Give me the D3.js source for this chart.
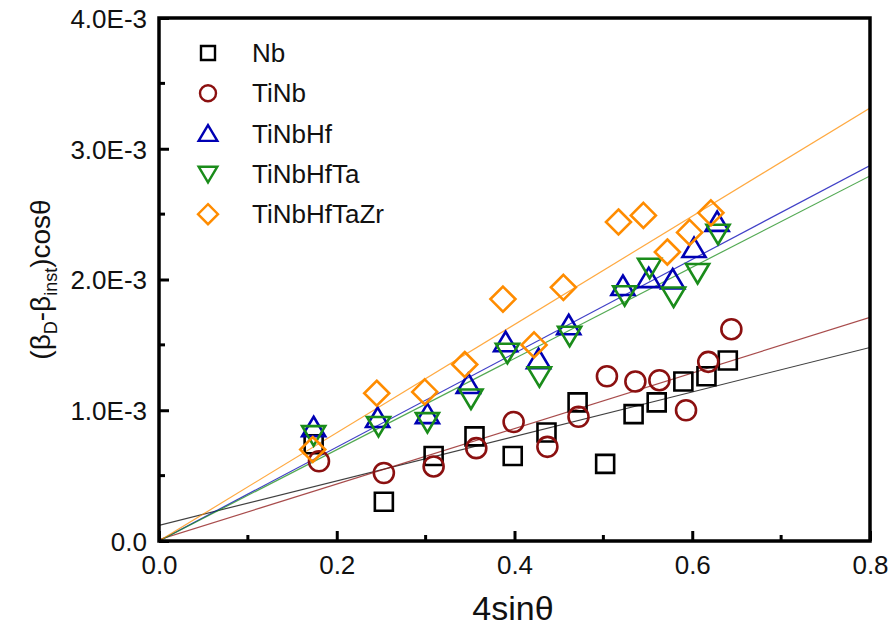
<!DOCTYPE html>
<html>
<head>
<meta charset="utf-8">
<script src="https://cdn.jsdelivr.net/npm/d3@7"></script>
<style>
  html, body { margin: 0; padding: 0; background: #fff; }
  svg { display: block; font-family: "Liberation Sans", Arial, sans-serif; }
</style>
</head>
<body>
<svg id="chart" width="892" height="640"></svg>
<script>
// Williamson–Hall data: 4 sinθ vs (βD − βinst) cosθ (in units of 1E-3)
const seriesNames = ["Nb", "TiNb", "TiNbHf", "TiNbHfTa", "TiNbHfTaZr"];
const seriesColors = ["#000000", "#8b1010", "#0000b4", "#1a8c1a", "#ff8c00"];
const seriesSymbols = ["square", "circle", "triangleUp", "triangleDown", "diamond"];

const nbX = [0.174, 0.253, 0.309, 0.355, 0.398, 0.436, 0.471, 0.502, 0.534, 0.560, 0.590, 0.616, 0.640];
const nbY = [0.74, 0.30, 0.65, 0.80, 0.65, 0.83, 1.06, 0.59, 0.97, 1.06, 1.22, 1.26, 1.38];

const tinbX = [0.180, 0.253, 0.309, 0.357, 0.399, 0.437, 0.472, 0.504, 0.536, 0.563, 0.593, 0.618, 0.644];
const tinbY = [0.61, 0.52, 0.57, 0.71, 0.91, 0.72, 0.95, 1.26, 1.22, 1.23, 1.00, 1.37, 1.62];

const tinbhfX = [0.174, 0.246, 0.302, 0.348, 0.390, 0.427, 0.461, 0.522, 0.551, 0.578, 0.602, 0.628];
const tinbhfY = [0.87, 0.94, 0.97, 1.20, 1.52, 1.39, 1.65, 1.95, 2.01, 2.00, 2.24, 2.44];

const tinbhftaX = [0.174, 0.247, 0.302, 0.351, 0.392, 0.428, 0.462, 0.524, 0.552, 0.579, 0.606, 0.629];
const tinbhftaY = [0.81, 0.88, 0.91, 1.09, 1.44, 1.26, 1.57, 1.88, 2.09, 1.87, 2.05, 2.35];

const tinbhftazrX = [0.173, 0.245, 0.299, 0.344, 0.387, 0.422, 0.455, 0.517, 0.545, 0.572, 0.597, 0.621];
const tinbhftazrY = [0.70, 1.13, 1.14, 1.35, 1.85, 1.50, 1.94, 2.44, 2.49, 2.21, 2.36, 2.51];

// Linear fits: y = intercept + slope * x (1E-3 units)
const fitIntercept = [0.12, 0.01, 0.0, 0.0, 0.0];
const fitSlope = [1.70, 2.125, 3.59, 3.49, 4.14];

const xTicks = [0.0, 0.2, 0.4, 0.6, 0.8];
const xMinorTicks = [0.1, 0.3, 0.5, 0.7];
const yTicks = [0, 1, 2, 3, 4];
const yTickLabels = ["0.0", "1.0E-3", "2.0E-3", "3.0E-3", "4.0E-3"];
const yMinorTicks = [0.5, 1.5, 2.5, 3.5];

const allX = [nbX, tinbX, tinbhfX, tinbhftaX, tinbhftazrX];
const allY = [nbY, tinbY, tinbhfY, tinbhftaY, tinbhftazrY];

const svg = d3.select("#chart");
const margin = { left: 159, right: 22, top: 18, bottom: 99 };
const W = 892, H = 640;
const x = d3.scaleLinear().domain([0, 0.8]).range([margin.left, W - margin.right]);
const y = d3.scaleLinear().domain([0, 4]).range([H - margin.bottom, margin.top]);

// clip region for fit lines
svg.append("clipPath").attr("id", "plotclip")
  .append("rect")
  .attr("x", x(0)).attr("y", y(4))
  .attr("width", x(0.8) - x(0)).attr("height", y(0) - y(4));

// fit lines
const fits = svg.append("g").attr("clip-path", "url(#plotclip)");
seriesNames.forEach((name, i) => {
  const f = v => fitIntercept[i] + fitSlope[i] * v;
  fits.append("line")
    .attr("x1", x(0)).attr("y1", y(f(0)))
    .attr("x2", x(0.8)).attr("y2", y(f(0.8)))
    .attr("stroke", seriesColors[i])
    .attr("stroke-opacity", 0.75)
    .attr("stroke-width", 1.2);
});

// marker shapes
function markerPath(kind, s) {
  const h = s / 2;
  switch (kind) {
    case "square": return `M${-h},${-h}H${h}V${h}H${-h}Z`;
    case "circle": return d3.arc()({ innerRadius: 0, outerRadius: h, startAngle: 0, endAngle: 2 * Math.PI });
    case "triangleUp": return `M0,${-h * 1.0}L${h * 1.1},${h * 0.85}L${-h * 1.1},${h * 0.85}Z`;
    case "triangleDown": return `M0,${h * 1.0}L${h * 1.1},${-h * 0.85}L${-h * 1.1},${-h * 0.85}Z`;
    case "diamond": return `M0,${-h * 1.25}L${h * 1.25},0L0,${h * 1.25}L${-h * 1.25},0Z`;
  }
}
const markerSize = [18, 20, 21, 21, 20];

const pts = svg.append("g");
seriesNames.forEach((name, i) => {
  pts.append("g").selectAll("path")
    .data(allX[i].map((v, k) => [v, allY[i][k]]))
    .join("path")
    .attr("transform", d => `translate(${x(d[0])},${y(d[1])})`)
    .attr("d", markerPath(seriesSymbols[i], markerSize[i]))
    .attr("fill", "none")
    .attr("stroke", seriesColors[i])
    .attr("stroke-width", 2.6);
});

// axes (ticks pointing inward)
const xAxis = d3.axisBottom(x).tickValues(xTicks).tickFormat(d3.format(".1f")).tickSizeInner(-10).tickSizeOuter(0).tickPadding(15);
const gx = svg.append("g").attr("transform", `translate(0,${y(0)})`).call(xAxis);
gx.append("g").selectAll("line").data(xMinorTicks).join("line")
  .attr("x1", d => x(d)).attr("x2", d => x(d)).attr("y1", 0).attr("y2", -6)
  .attr("stroke", "#000").attr("stroke-width", 3);

const yAxis = d3.axisLeft(y).tickValues(yTicks).tickFormat((d, i) => yTickLabels[i]).tickSizeInner(-10).tickSizeOuter(0).tickPadding(12);
const gy = svg.append("g").attr("transform", `translate(${x(0)},0)`).call(yAxis);
gy.append("g").selectAll("line").data(yMinorTicks).join("line")
  .attr("y1", d => y(d)).attr("y2", d => y(d)).attr("x1", 0).attr("x2", 6)
  .attr("stroke", "#000").attr("stroke-width", 3);

[gx, gy].forEach(g => {
  g.attr("font-size", null).attr("font-family", null);
  g.select(".domain").remove();
  g.selectAll(".tick line").attr("stroke", "#000").attr("stroke-width", 3);
  g.selectAll(".tick text").style("font-size", "26px").attr("fill", "#111")
    .style("font-family", "'Liberation Sans', Arial, sans-serif");
});
gy.selectAll(".tick text").attr("dy", "0.36em");

// frame
svg.append("rect")
  .attr("x", x(0)).attr("y", y(4))
  .attr("width", x(0.8) - x(0)).attr("height", y(0) - y(4))
  .attr("fill", "none").attr("stroke", "#000").attr("stroke-width", 3.5);

// axis titles
svg.append("text")
  .attr("x", 513).attr("y", 620)
  .attr("text-anchor", "middle").style("font-size", "34px").attr("fill", "#111")
  .text("4sinθ");

const yt = svg.append("text")
  .attr("transform", `translate(50,${(y(0) + y(4)) / 2}) rotate(-90)`)
  .attr("text-anchor", "middle").style("font-size", "28px").attr("fill", "#111");
yt.append("tspan").text("(β");
yt.append("tspan").style("font-size", "18px").attr("dy", 7).text("D");
yt.append("tspan").attr("dy", -7).text("-β");
yt.append("tspan").style("font-size", "18px").attr("dy", 7).text("inst");
yt.append("tspan").attr("dy", -7).text(")cosθ");

// legend
const legend = svg.append("g");
seriesNames.forEach((name, i) => {
  const ly = 53 + i * 40.3;
  legend.append("path")
    .attr("transform", `translate(208,${ly})`)
    .attr("d", markerPath(seriesSymbols[i], [14, 16, 17, 17, 16][i]))
    .attr("fill", "none").attr("stroke", seriesColors[i]).attr("stroke-width", 2.4);
  legend.append("text")
    .attr("x", 252).attr("y", ly + 9)
    .style("font-size", "26px").attr("fill", "#111")
    .text(name);
});
</script>
</body>
</html>
